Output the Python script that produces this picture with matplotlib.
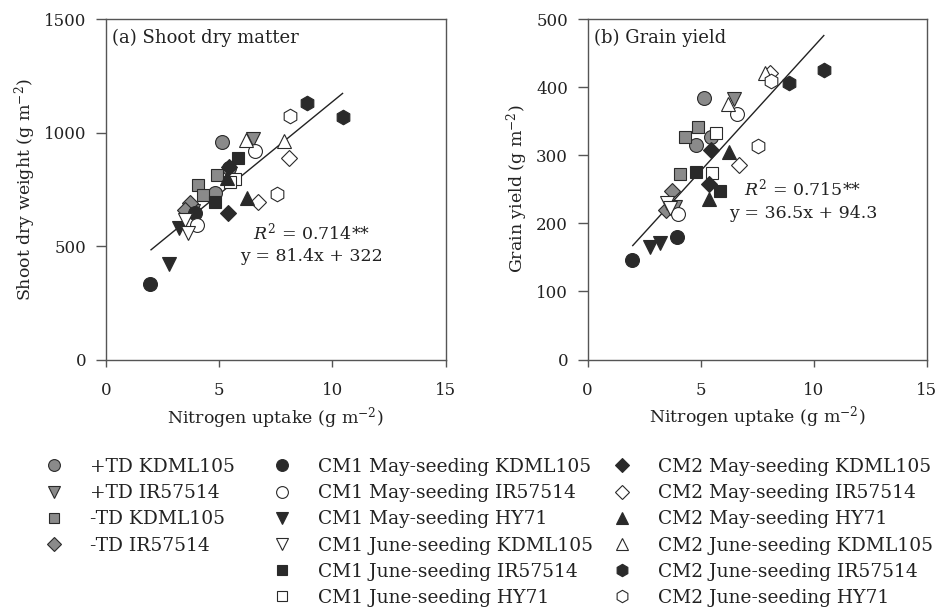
import matplotlib
matplotlib.use("Agg")
import matplotlib.pyplot as plt

plt.rcParams["font.family"] = ["DejaVu Serif"]
plt.rcParams["mathtext.fontset"] = "dejavuserif"

# ---- data -------------------------------------------------------------
labels = [
    "+TD KDML105", "+TD IR57514", "-TD KDML105", "-TD IR57514",
    "CM1 May-seeding KDML105", "CM1 May-seeding IR57514", "CM1 May-seeding HY71",
    "CM1 June-seeding KDML105", "CM1 June-seeding IR57514", "CM1 June-seeding HY71",
    "CM2 May-seeding KDML105", "CM2 May-seeding IR57514", "CM2 May-seeding HY71",
    "CM2 June-seeding KDML105", "CM2 June-seeding IR57514", "CM2 June-seeding HY71",
]

# nitrogen uptake (g m-2), one list per treatment
n_uptake = [
    [5.14, 4.82, 5.44], [6.48, 3.85], [4.90, 4.09, 4.31], [3.72, 3.48],
    [1.95, 3.94], [6.60, 4.01], [2.78, 3.22],
    [3.50, 3.64], [5.85, 4.82], [5.70, 5.49],
    [5.44, 5.38], [8.08, 6.72], [5.36, 6.25],
    [6.20, 7.86], [8.89, 10.45], [8.13, 7.55],
]

# shoot dry weight (g m-2)
shoot_dw = [
    [958, 735, 845], [971, 655], [814, 770, 726], [689, 660],
    [335, 648], [919, 594], [421, 579],
    [616, 557], [887, 696], [795, 785],
    [848, 645], [890, 696], [800, 711],
    [968, 965], [1129, 1070], [1073, 730],
]

# grain yield (g m-2)
grain_yield = [
    [384, 315, 326], [382, 224], [342, 273, 326], [248, 219],
    [146, 180], [360, 213], [165, 171],
    [230, 222], [248, 275], [332, 274],
    [307, 258], [421, 285], [235, 305],
    [375, 420], [406, 425], [409, 313],
]

# regression lines: slope, intercept, R2
sdw_fit = (81.4, 322, 0.714)
gy_fit = (36.5, 94.3, 0.715)
fit_x = [2.0, 10.45]

# ---- styles -----------------------------------------------------------
DARK = "#2a2a2a"
GREY = "#8a8a8a"
WHITE = "white"
TEXT = "#222222"
SPINE = "#555555"
marker_shapes = ["o", "v", "s", "D", "o", "o", "v", "v", "s", "s",
                 "D", "D", "^", "^", "h", "h"]
marker_fills = [GREY, GREY, GREY, GREY, DARK, WHITE, DARK, WHITE, DARK, WHITE,
                DARK, WHITE, DARK, WHITE, DARK, WHITE]
marker_sizes = {"o": 10, "v": 10, "^": 10, "s": 9.2, "D": 8.0, "h": 10.5}

fig = plt.figure(figsize=(9.4, 6.15), dpi=100)
ax_a = fig.add_axes([105.7 / 940, 1 - 360 / 615, 340 / 940, 341 / 615])
ax_b = fig.add_axes([587.5 / 940, 1 - 359.5 / 615, 339.2 / 940, 340.5 / 615])


def draw_panel(ax, yvals, fit, ylim, yticks, ylabel, ylabel_x, title, eq_xy):
    handles = []
    for xs, ys, m, fc in zip(n_uptake, yvals, marker_shapes, marker_fills):
        h, = ax.plot(xs, ys, linestyle="none", marker=m,
                     markersize=marker_sizes[m], markerfacecolor=fc,
                     markeredgecolor=DARK, markeredgewidth=0.8)
        handles.append(h)
    slope, icpt, r2 = fit
    ax.plot(fit_x, [slope * v + icpt for v in fit_x], color=TEXT,
            linewidth=1.0, zorder=1)
    ax.set_xlim(0, 15)
    ax.set_ylim(*ylim)
    ax.set_xticks([0, 5, 10, 15])
    ax.set_yticks(yticks)
    for sp in ax.spines.values():
        sp.set_color(SPINE)
        sp.set_linewidth(1.0)
    ax.tick_params(axis="y", direction="out", length=7, width=1.0,
                   color=SPINE, labelsize=12, pad=7, labelcolor=TEXT)
    ax.tick_params(axis="x", direction="out", length=5, width=1.0,
                   color=SPINE, labelsize=12, pad=11, labelcolor=TEXT)
    ax.set_xlabel(r"Nitrogen uptake (g m$^{\mathregular{-2}}$)", fontsize=12.5,
                  color=TEXT, labelpad=4)
    ax.set_ylabel(ylabel, fontsize=12.5, color=TEXT)
    ax.yaxis.set_label_coords(ylabel_x, 0.5)
    ax.text(0.018, 0.972, title, transform=ax.transAxes, fontsize=13,
            ha="left", va="top", color=TEXT)
    ex, ey = eq_xy
    ax.text(ex, ey, r"$R^2$" + f" = {r2:.3f}**", transform=ax.transAxes,
            fontsize=12.5, ha="center", va="center", color=TEXT)
    ax.text(ex, ey - 0.072, f"y = {slope}x + {icpt:g}", transform=ax.transAxes,
            fontsize=12.5, ha="center", va="center", color=TEXT)
    return handles


handles = draw_panel(ax_a, shoot_dw, sdw_fit, (0, 1500), [0, 500, 1000, 1500],
                     r"Shoot dry weight (g m$^{\mathregular{-2}}$)", -0.2,
                     "(a) Shoot dry matter", (0.605, 0.375))
draw_panel(ax_b, grain_yield, gy_fit, (0, 500), [0, 100, 200, 300, 400, 500],
           r"Grain yield (g m$^{\mathregular{-2}}$)", -0.17,
           "(b) Grain yield", (0.635, 0.502))

# legend in three columns below the panels
groups = [(0, 4, 35.4), (4, 10, 263.4), (10, 16, 603.4)]
for start, stop, left in groups:
    leg = fig.legend(handles[start:stop], labels[start:stop],
                     loc="upper left", bbox_to_anchor=(left / 940, 1 - 458 / 615),
                     frameon=False, fontsize=13.4, markerscale=0.85,
                     handlelength=2.0, handletextpad=0.935, labelspacing=0.44,
                     borderpad=0, borderaxespad=0)
    for t in leg.get_texts():
        t.set_color(TEXT)

fig.savefig("out.png", dpi=100)
